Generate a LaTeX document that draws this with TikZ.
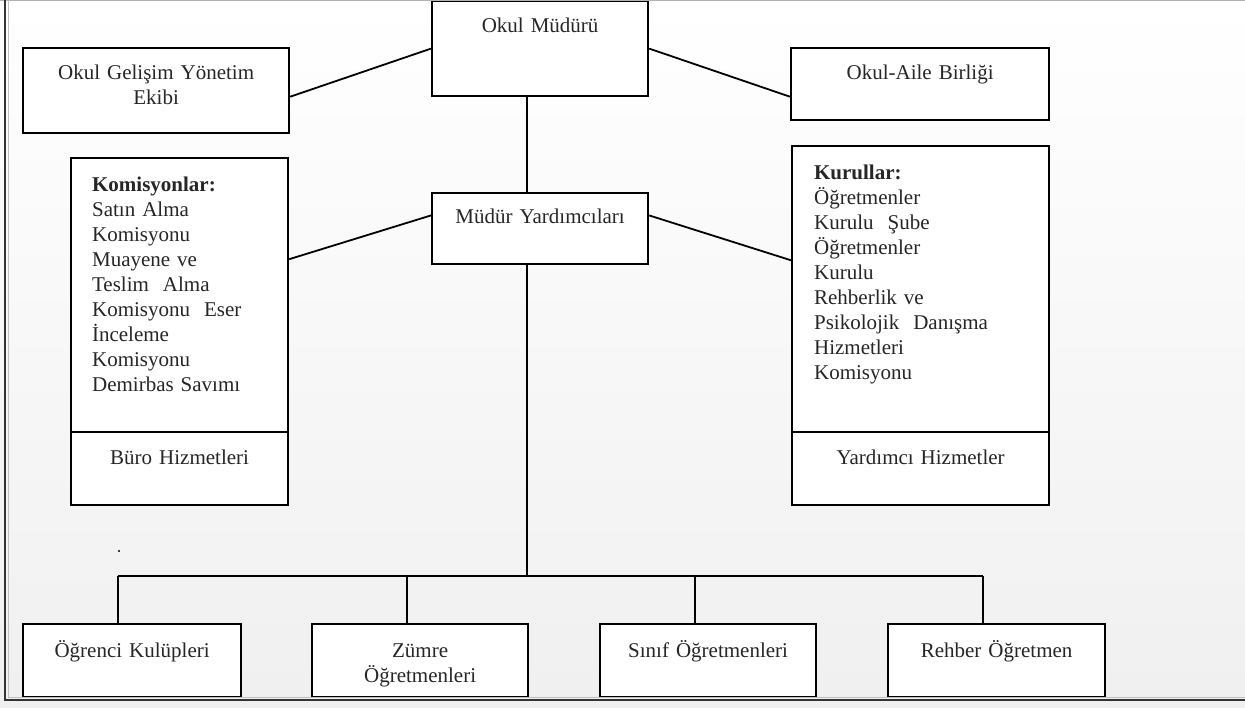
\documentclass[tikz,border=0pt]{standalone}
\usepackage{fontspec}
\setmainfont{Liberation Serif}
\usetikzlibrary{calc}

\tikzset{
  box/.style={draw, line width=1.1pt, fill=white, inner xsep=0pt, inner ysep=0pt,
    anchor=north west, align=center, text=black!85},
  list/.style={box, align=left},
  link/.style={line width=0.9pt}
}

\begin{document}
\begin{tikzpicture}[x=0.5pt,y=-0.5pt,font=\fontsize{10.5}{12.5}\selectfont]
  \useasboundingbox (0,0) rectangle (1245,707);
  \shade[top color=white,bottom color=black!6] (0,0) rectangle (1245,707);

  % top row
  \node[box, text width=108pt, text height=15.5pt, text depth=32pt] (mudur) at (431,0) {Okul Müdürü};
  \node[box, text width=133pt, text height=15.5pt, text depth=27pt] (gelisim) at (22,47) {Okul Gelişim Yönetim\\Ekibi};
  \node[box, text width=129pt, text height=15.5pt, text depth=20.5pt] (aile) at (790,47) {Okul-Aile Birliği};

  % middle row
  \node[box, text width=108pt, text height=15pt, text depth=20.5pt] (yard) at (431,192) {Müdür Yardımcıları};
  \node[list, text width=87.5pt, inner xsep=10.5pt, text height=16.5pt, text depth=120.5pt] (komisyon) at (70,157)
    {\textbf{Komisyonlar:}\\Satın Alma\\Komisyonu\\Muayene ve\\Teslim~ Alma\\Komisyonu~ Eser\\İnceleme\\Komisyonu\\Demirbas Savımı};
  \node[box, text width=108.5pt, text height=16pt, text depth=20.5pt] (buro) at (70,431) {Büro Hizmetleri};
  \node[list, text width=106.5pt, inner xsep=11pt, text height=16.5pt, text depth=126.5pt] (kurul) at (791,145)
    {\textbf{Kurullar:}\\Öğretmenler\\Kurulu~ Şube\\Öğretmenler\\Kurulu\\Rehberlik ve\\Psikolojik~ Danışma\\Hizmetleri\\Komisyonu};
  \node[box, text width=128.5pt, text height=16pt, text depth=20.5pt] (yardimci) at (791,431) {Yardımcı Hizmetler};

  % bottom row
  \node[box, text width=109pt, text height=16.5pt, text depth=20pt] (ogrenci) at (22,623) {Öğrenci Kulüpleri};
  \node[box, text width=108pt, text height=16.5pt, text depth=20pt] (zumre) at (311,623) {Zümre\\Öğretmenleri};
  \node[box, text width=108pt, text height=16.5pt, text depth=20pt] (sinif) at (599,623) {Sınıf Öğretmenleri};
  \node[box, text width=108.5pt, text height=16.5pt, text depth=20pt] (rehber) at (887,623) {Rehber Öğretmen};

  \coordinate (bus) at (527,576);
  \coordinate (d1) at (118,576);
  \coordinate (d2) at (407,576);
  \coordinate (d3) at (695,576);
  \coordinate (d4) at (983,576);

  % connectors
  \draw[link] ($(gelisim.north east)!0.57!(gelisim.south east)$) -- (mudur.west);
  \draw[link] (mudur.east) -- ($(aile.north west)!0.67!(aile.south west)$);
  \draw[link] ($(komisyon.north east)!0.37!(komisyon.south east)$) -- ($(yard.north west)!0.32!(yard.south west)$);
  \draw[link] ($(yard.north east)!0.32!(yard.south east)$) -- ($(kurul.north west)!0.4!(kurul.south west)$);
  \draw[link] (mudur.south -| bus) -- (yard.north -| bus);
  \draw[link] (yard.south -| bus) -- (bus);
  \draw[link] (d1) -- (d4);
  \foreach \d/\b in {d1/ogrenci, d2/zumre, d3/sinif, d4/rehber}
    \draw[link] (\d) -- (\d |- \b.north);

  \fill (119,551) circle (1.2);

  % frame
  \draw[gray!60, line width=0.6pt] (0,0.6) -- (1245,0.6);
  \draw[black!80, line width=1.4pt] (5,0) -- (5,700) -- (1245,700);
  \draw[gray!50, line width=0.5pt] (8,0) -- (8,697) -- (1245,697);
\end{tikzpicture}
\end{document}
